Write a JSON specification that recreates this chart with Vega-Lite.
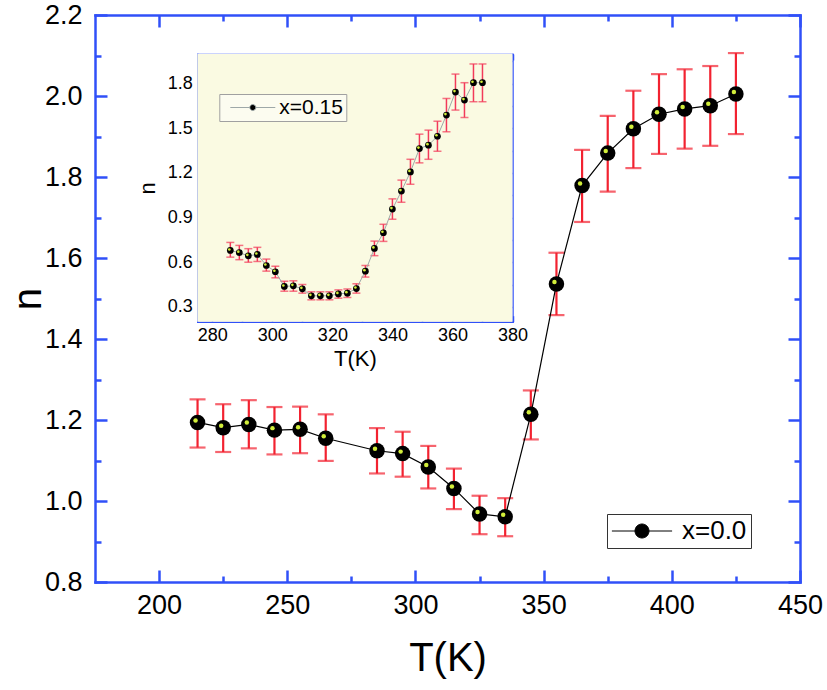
{
  "$schema": "https://vega.github.io/schema/vega-lite/v6.json",
  "width": 705,
  "height": 567,
  "autosize": "none",
  "padding": {"left": 95, "top": 15, "right": 27, "bottom": 108},
  "background": "white",
  "datasets": {
    "main": [
      {"T": 215, "n": 1.194, "lo": 1.132, "hi": 1.251},
      {"T": 225, "n": 1.181, "lo": 1.121, "hi": 1.239},
      {"T": 235, "n": 1.189, "lo": 1.130, "hi": 1.249},
      {"T": 245, "n": 1.175, "lo": 1.115, "hi": 1.232},
      {"T": 255, "n": 1.177, "lo": 1.118, "hi": 1.233},
      {"T": 265, "n": 1.155, "lo": 1.099, "hi": 1.214},
      {"T": 285, "n": 1.124, "lo": 1.068, "hi": 1.180},
      {"T": 295, "n": 1.117, "lo": 1.060, "hi": 1.171},
      {"T": 305, "n": 1.084, "lo": 1.031, "hi": 1.136},
      {"T": 315, "n": 1.031, "lo": 0.980, "hi": 1.080},
      {"T": 325, "n": 0.968, "lo": 0.918, "hi": 1.013},
      {"T": 335, "n": 0.961, "lo": 0.913, "hi": 1.007},
      {"T": 345, "n": 1.214, "lo": 1.152, "hi": 1.273},
      {"T": 355, "n": 1.536, "lo": 1.459, "hi": 1.613},
      {"T": 365, "n": 1.779, "lo": 1.689, "hi": 1.867},
      {"T": 375, "n": 1.859, "lo": 1.764, "hi": 1.951},
      {"T": 385, "n": 1.919, "lo": 1.822, "hi": 2.013},
      {"T": 395, "n": 1.955, "lo": 1.857, "hi": 2.054},
      {"T": 405, "n": 1.968, "lo": 1.870, "hi": 2.066},
      {"T": 415, "n": 1.976, "lo": 1.877, "hi": 2.074},
      {"T": 425, "n": 2.005, "lo": 1.906, "hi": 2.106}
    ],
    "inset": [
      {"T": 286, "n": 0.679, "lo": 0.634, "hi": 0.733},
      {"T": 289, "n": 0.664, "lo": 0.617, "hi": 0.713},
      {"T": 292, "n": 0.643, "lo": 0.600, "hi": 0.691},
      {"T": 295, "n": 0.652, "lo": 0.605, "hi": 0.700},
      {"T": 298, "n": 0.578, "lo": 0.540, "hi": 0.621},
      {"T": 301, "n": 0.536, "lo": 0.495, "hi": 0.573},
      {"T": 304, "n": 0.437, "lo": 0.405, "hi": 0.472},
      {"T": 307, "n": 0.441, "lo": 0.405, "hi": 0.475},
      {"T": 310, "n": 0.421, "lo": 0.392, "hi": 0.450},
      {"T": 313, "n": 0.374, "lo": 0.347, "hi": 0.401},
      {"T": 316, "n": 0.374, "lo": 0.347, "hi": 0.401},
      {"T": 319, "n": 0.374, "lo": 0.347, "hi": 0.401},
      {"T": 322, "n": 0.387, "lo": 0.358, "hi": 0.414},
      {"T": 325, "n": 0.392, "lo": 0.363, "hi": 0.420},
      {"T": 328, "n": 0.423, "lo": 0.392, "hi": 0.455},
      {"T": 331, "n": 0.540, "lo": 0.500, "hi": 0.578},
      {"T": 334, "n": 0.693, "lo": 0.644, "hi": 0.742},
      {"T": 337, "n": 0.798, "lo": 0.740, "hi": 0.855},
      {"T": 340, "n": 0.957, "lo": 0.889, "hi": 1.026},
      {"T": 343, "n": 1.078, "lo": 1.003, "hi": 1.152},
      {"T": 346, "n": 1.207, "lo": 1.124, "hi": 1.292},
      {"T": 349, "n": 1.364, "lo": 1.268, "hi": 1.461},
      {"T": 352, "n": 1.387, "lo": 1.292, "hi": 1.488},
      {"T": 355, "n": 1.447, "lo": 1.346, "hi": 1.548},
      {"T": 358, "n": 1.589, "lo": 1.477, "hi": 1.701},
      {"T": 361, "n": 1.744, "lo": 1.623, "hi": 1.865},
      {"T": 364, "n": 1.690, "lo": 1.573, "hi": 1.807},
      {"T": 367, "n": 1.807, "lo": 1.679, "hi": 1.933},
      {"T": 370, "n": 1.807, "lo": 1.679, "hi": 1.933}
    ]
  },
  "config": {
    "view": {"stroke": null},
    "font": "Liberation Sans",
    "axis": {
      "grid": false,
      "zindex": 1,
      "labelFont": "Liberation Sans",
      "titleFont": "Liberation Sans",
      "titleFontWeight": "normal",
      "labelColor": "#000",
      "titleColor": "#000",
      "labelFlush": false,
      "labelOverlap": false,
      "labelBound": false,
      "tickColor": "#3050f8",
      "domainColor": "#3050f8",
      "domainCap": "square"
    },
    "legend": {"labelFont": "Liberation Sans", "labelColor": "#000"}
  },
  "resolve": {
    "scale": {"x": "independent", "y": "independent", "fill": "independent"},
    "axis": {"x": "independent", "y": "independent"},
    "legend": {"fill": "independent"}
  },
  "layer": [
    {
      "data": {"name": "main"},
      "mark": {"type": "errorbar", "color": "#f22230", "thickness": 2.2, "size": 16, "ticks": true},
      "encoding": {
        "x": {"field": "T", "type": "quantitative",
          "scale": {"domain": [175, 450], "nice": false, "zero": false},
          "axis": {"orient": "bottom", "values": [225, 275, 325, 375, 425], "tickSize": -6, "tickWidth": 2.5, "domain": false, "labels": false, "title": null}},
        "y": {"field": "lo", "type": "quantitative",
          "scale": {"domain": [0.8, 2.2], "nice": false, "zero": false},
          "axis": {"orient": "left", "values": [0.9, 1.1, 1.3, 1.5, 1.7, 1.9, 2.1], "tickSize": -6, "tickWidth": 2.5, "domain": false, "labels": false, "title": null}},
        "y2": {"field": "hi"}
      }
    },
    {
      "data": {"name": "main"},
      "mark": {"type": "line", "color": "#000", "strokeWidth": 1.2},
      "encoding": {
        "x": {"field": "T", "type": "quantitative",
          "scale": {"domain": [175, 450], "nice": false, "zero": false},
          "axis": {"orient": "top", "values": [200, 250, 300, 350, 400, 450], "tickSize": -12, "tickWidth": 2.5, "domainWidth": 2.5, "labels": false, "title": null}},
        "y": {"field": "n", "type": "quantitative",
          "scale": {"domain": [0.8, 2.2], "nice": false, "zero": false},
          "axis": {"orient": "right", "values": [0.8, 1.0, 1.2, 1.4, 1.6, 1.8, 2.0, 2.2], "tickSize": -12, "tickWidth": 2.5, "domainWidth": 2.5, "labels": false, "title": null}}
      }
    },
    {
      "data": {"name": "main"},
      "mark": {"type": "point", "filled": true, "size": 240, "opacity": 1, "strokeWidth": 0},
      "encoding": {
        "x": {"field": "T", "type": "quantitative",
          "scale": {"domain": [175, 450], "nice": false, "zero": false},
          "axis": {"orient": "bottom", "values": [200, 250, 300, 350, 400, 450], "format": "d", "tickSize": -12, "tickWidth": 2.5, "domainWidth": 2.5, "labelFontSize": 27, "labelPadding": 22, "title": "T(K)", "titleFontSize": 40, "titlePadding": 20}},
        "y": {"field": "n", "type": "quantitative",
          "scale": {"domain": [0.8, 2.2], "nice": false, "zero": false},
          "axis": {"orient": "left", "values": [0.8, 1.0, 1.2, 1.4, 1.6, 1.8, 2.0, 2.2], "format": ".1f", "tickSize": -12, "tickWidth": 2.5, "domainWidth": 2.5, "labelFontSize": 27, "labelPadding": 25, "title": "n", "titleFontSize": 40, "titlePadding": -4}},
        "fill": {"datum": "x=0.0", "type": "nominal", "scale": {"range": ["#000"]},
          "legend": {"orient": "none", "legendX": 512, "legendY": 499, "title": null,
            "symbolType": "M-4.3,0H-1M1,0H4.3M-1,0A1,1,0,1,0,1,0A1,1,0,1,0,-1,0Z",
            "symbolSize": 196, "symbolStrokeColor": "#000", "symbolStrokeWidth": 1, "symbolOpacity": 1,
            "symbolOffset": 18, "labelOffset": 27, "labelFontSize": 26,
            "strokeColor": "#333", "fillColor": "#fff", "padding": 4, "cornerRadius": 0}}
      }
    },
    {
      "data": {"name": "main"},
      "mark": {"type": "point", "filled": true, "size": 20, "opacity": 1, "color": "#d2ee3a", "xOffset": -2, "yOffset": -2},
      "encoding": {
        "x": {"field": "T", "type": "quantitative",
          "scale": {"domain": [175, 450], "nice": false, "zero": false},
          "axis": {"orient": "top", "values": [225, 275, 325, 375, 425], "tickSize": -6, "tickWidth": 2.5, "domain": false, "labels": false, "title": null}},
        "y": {"field": "n", "type": "quantitative",
          "scale": {"domain": [0.8, 2.2], "nice": false, "zero": false},
          "axis": {"orient": "right", "values": [0.9, 1.1, 1.3, 1.5, 1.7, 1.9, 2.1], "tickSize": -6, "tickWidth": 2.5, "domain": false, "labels": false, "title": null}}
      }
    },
    {
      "data": {"values": [{"panel": "x=0.15"}]},
      "mark": {"type": "rect", "color": "#fafae2"},
      "encoding": {
        "x": {"datum": 275, "type": "quantitative",
          "scale": {"domain": [275, 380], "range": [102.3, 417.5], "nice": false, "zero": false},
          "axis": {"orient": "bottom", "offset": -260.3, "values": [280, 300, 320, 340, 360, 380], "format": "d", "tickSize": -6, "tickWidth": 1.5, "domainWidth": 1.5, "labelFontSize": 18, "labelPadding": 11, "title": "T(K)", "titleFontSize": 22, "titlePadding": 4}},
        "x2": {"datum": 380},
        "y": {"datum": 0.2, "type": "quantitative",
          "scale": {"domain": [0.2, 2.0], "range": [306.7, 39], "nice": false, "zero": false},
          "axis": {"orient": "left", "offset": -102.3, "values": [0.3, 0.6, 0.9, 1.2, 1.5, 1.8], "format": ".1f", "tickSize": -6, "tickWidth": 1.5, "domainWidth": 1.5, "labelFontSize": 18, "labelPadding": 11, "title": "n", "titleFontSize": 22, "titlePadding": 8}},
        "y2": {"datum": 2.0}
      }
    },
    {
      "data": {"name": "inset"},
      "mark": {"type": "errorbar", "color": "#f23a5a", "thickness": 1.5, "size": 8, "ticks": true},
      "encoding": {
        "x": {"field": "T", "type": "quantitative",
          "scale": {"domain": [275, 380], "range": [102.3, 417.5], "nice": false, "zero": false},
          "axis": {"orient": "bottom", "offset": -260.3, "values": [290, 310, 330, 350, 370], "tickSize": -3, "tickWidth": 1.5, "domain": false, "labels": false, "title": null}},
        "y": {"field": "lo", "type": "quantitative",
          "scale": {"domain": [0.2, 2.0], "range": [306.7, 39], "nice": false, "zero": false},
          "axis": {"orient": "left", "offset": -102.3, "values": [0.45, 0.75, 1.05, 1.35, 1.65, 1.95], "tickSize": -3, "tickWidth": 1.5, "domain": false, "labels": false, "title": null}},
        "y2": {"field": "hi"}
      }
    },
    {
      "data": {"name": "inset"},
      "mark": {"type": "line", "color": "#9ea8a8", "strokeWidth": 1},
      "encoding": {
        "x": {"field": "T", "type": "quantitative",
          "scale": {"domain": [275, 380], "range": [102.3, 417.5], "nice": false, "zero": false},
          "axis": {"orient": "top", "offset": -39, "values": [280, 300, 320, 340, 360, 380], "tickSize": -6, "tickWidth": 1.5, "domainWidth": 1.5, "labels": false, "title": null}},
        "y": {"field": "n", "type": "quantitative",
          "scale": {"domain": [0.2, 2.0], "range": [306.7, 39], "nice": false, "zero": false},
          "axis": {"orient": "right", "offset": -287.5, "values": [0.3, 0.6, 0.9, 1.2, 1.5, 1.8], "tickSize": -6, "tickWidth": 1.5, "domainWidth": 1.5, "labels": false, "title": null}}
      }
    },
    {
      "data": {"name": "inset"},
      "mark": {"type": "point", "filled": true, "size": 45, "opacity": 1, "strokeWidth": 0},
      "encoding": {
        "x": {"field": "T", "type": "quantitative",
          "scale": {"domain": [275, 380], "range": [102.3, 417.5], "nice": false, "zero": false},
          "axis": {"orient": "top", "offset": -39, "values": [290, 310, 330, 350, 370], "tickSize": -3, "tickWidth": 1.5, "domain": false, "labels": false, "title": null}},
        "y": {"field": "n", "type": "quantitative",
          "scale": {"domain": [0.2, 2.0], "range": [306.7, 39], "nice": false, "zero": false},
          "axis": {"orient": "right", "offset": -287.5, "values": [0.45, 0.75, 1.05, 1.35, 1.65, 1.95], "tickSize": -3, "tickWidth": 1.5, "domain": false, "labels": false, "title": null}},
        "fill": {"datum": "x=0.15", "type": "nominal", "scale": {"range": ["#000"]},
          "legend": {"orient": "none", "legendX": 124.3, "legendY": 79, "title": null,
            "symbolType": "M-7.5,0H-1M1,0H7.5M-1,0A1,1,0,1,0,1,0A1,1,0,1,0,-1,0Z",
            "symbolSize": 36, "symbolStrokeColor": "#9ea8a8", "symbolStrokeWidth": 1, "symbolOpacity": 1,
            "symbolOffset": 20, "labelOffset": 16, "labelFontSize": 21,
            "strokeColor": "#a0a0a0", "fillColor": "#fcfcf0", "padding": 3, "cornerRadius": 0}}
      }
    },
    {
      "data": {"name": "inset"},
      "mark": {"type": "point", "filled": true, "size": 7, "opacity": 1, "color": "#d2ee3a", "xOffset": -1, "yOffset": -1},
      "encoding": {
        "x": {"field": "T", "type": "quantitative",
          "scale": {"domain": [275, 380], "range": [102.3, 417.5], "nice": false, "zero": false},
          "axis": null},
        "y": {"field": "n", "type": "quantitative",
          "scale": {"domain": [0.2, 2.0], "range": [306.7, 39], "nice": false, "zero": false},
          "axis": null}
      }
    }
  ]
}
